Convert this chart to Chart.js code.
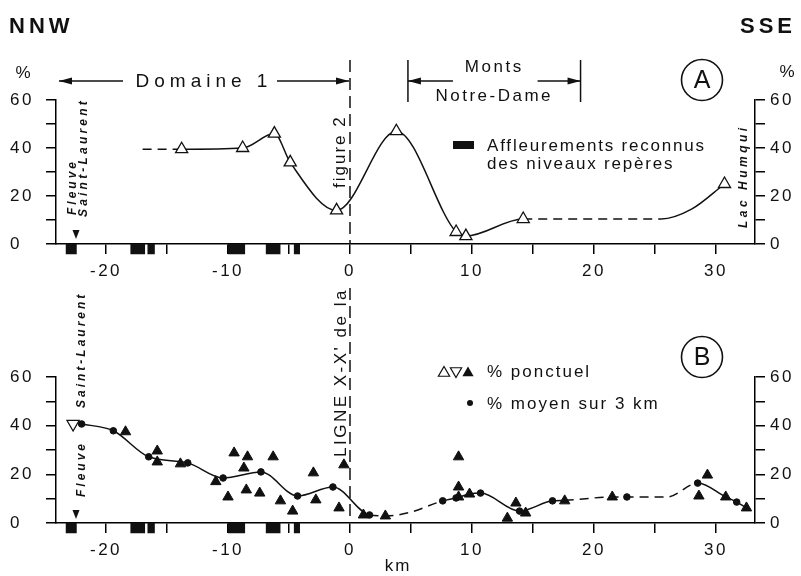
<!DOCTYPE html>
<html><head><meta charset="utf-8">
<script src="https://cdn.jsdelivr.net/npm/chart.js@4/dist/chart.umd.min.js"></script>
<style>
html,body{margin:0;padding:0;background:#fff;}
#wrap{position:relative;width:801px;height:576px;background:#fff;}
canvas{position:absolute;left:0;top:0;}
</style></head><body>
<div id="wrap"><canvas id="cA" width="801" height="576"></canvas><canvas id="cB" width="801" height="576"></canvas></div>
<script>
// ---------- axes ----------
const X_MIN = -24.1, X_MAX = 33.2;
const Y_MIN = 0, Y_MAX = 60;
const xTickValues = [-20,-15,-10,-5,0,5,10,15,20,25,30];
const xTickLabels = ['-20','','-10','','0','','10','','20','','30'];
const yTickValues = [0,10,20,30,40,50,60];
const yTickLabels = ['0','','20','','40','','60'];

// ---------- panel A : open triangles and trend curve ----------
const kmA  = [-13.8,-8.8,-6.2,-4.9,-1.1,3.8,8.7,9.5,14.2,30.7];
const pctA = [39.5,40.0,46.0,34.0,14.0,47.0,5.0,3.3,10.4,25.0];
const curveKmA  = [-17.0,-13.8,-8.8,-6.2,-4.9,-1.1,3.8,8.7,9.5,14.2,25.5,28.0,30.7];
const curvePctA = [39.5,39.5,40.0,46.0,34.0,14.0,47.0,5.0,3.3,10.4,10.4,14.5,25.0];
const dashedRangesA = [[-17.0,-13.8],[14.2,25.5]];

// ---------- outcrops of marker beds (both panels) ----------
const outcropFromKm = [-23.3,-18.0,-16.6,-10.0,-6.9,-4.6];
const outcropToKm   = [-22.4,-16.8,-16.0,-8.6,-5.7,-4.1];
const outcropDepthPct = 4.2;

// ---------- panel B ----------
const kmB_ponct  = [-18.4,-15.8,-15.8,-13.9,-11.0,-10.0,-9.5,-8.7,-8.4,-8.5,-7.4,-6.3,-5.7,-4.7,-3.0,-2.8,-0.9,-0.5,1.1,2.9,8.9,8.9,8.9,9.8,12.9,13.6,14.4,17.6,21.5,28.6,29.3,30.8,32.5];
const pctB_ponct = [37.5,29.6,25.1,24.3,17.0,10.7,28.8,22.6,27.2,13.6,12.3,27.2,9.1,4.9,20.6,9.5,6.2,23.9,3.3,2.9,27.2,14.8,10.7,11.9,2.0,8.2,4.1,9.1,10.7,11.1,19.7,10.7,6.2];
const kmB_open  = [-22.7];
const pctB_open = [40.7];
const kmB_moyen  = [-22.0,-19.4,-16.5,-13.3,-10.4,-7.3,-4.3,-1.4,1.6,7.6,8.7,10.7,13.9,16.6,22.7,28.5,31.7];
const pctB_moyen = [40.7,37.9,27.2,24.7,18.5,21.0,11.1,14.8,3.3,9.1,10.3,12.3,4.9,9.1,10.7,16.4,8.6];
const curveKmB  = [-22.0,-19.4,-16.5,-13.3,-10.4,-7.3,-4.3,-1.4,1.6,3.0,5.0,7.6,8.7,9.8,10.7,13.9,16.6,17.6,21.5,22.7,26.0,28.5,30.8,31.7,32.5];
const curvePctB = [40.7,37.9,27.2,24.7,18.5,21.0,11.1,14.8,3.3,2.9,4.5,9.1,10.3,11.9,12.3,4.9,9.1,9.3,10.7,10.7,10.7,16.4,10.7,8.6,6.2];
const dashedRangesB = [[1.6,7.6],[17.6,28.5]];

// ---------- helpers ----------
const FONT = "'Liberation Sans', Arial, sans-serif";
const pts = (xs, ys) => xs.map((x,i)=>({x, y: ys[i]}));
function outcropPoints(){
  const out = [];
  const mid = -outcropDepthPct/2;
  outcropFromKm.forEach((a,i)=>{
    out.push({x:a,y:mid},{x:outcropToKm[i],y:mid});
    if (i < outcropFromKm.length-1) out.push({x:(outcropToKm[i]+outcropFromKm[i+1])/2, y:null});
  });
  return out;
}
const dashSeg = ranges => ctx => {
  const a = ctx.p0.parsed.x, b = ctx.p1.parsed.x;
  return ranges.some(([s,e]) => a >= s-1e-6 && b <= e+1e-6) ? [9,6] : undefined;
};

function scales(plotBottomPx){
  const tickFont = {family: FONT, size: 17};
  const yCommon = {
    type:'linear', min:Y_MIN, max:Y_MAX,
    afterBuildTicks: s => { s.ticks = yTickValues.map(v=>({value:v})); },
    grid:{drawOnChartArea:false, drawTicks:true, tickLength:10, color:'#000', lineWidth:1.5},
    border:{display:true, color:'#000', width:1.5},
  };
  return {
    x: {
      type:'linear', min:X_MIN, max:X_MAX,
      afterBuildTicks: s => { s.ticks = xTickValues.map(v=>({value:v})); },
      ticks:{callback:(v,i)=>xTickLabels[i], color:'#111', font:tickFont, maxRotation:0, autoSkip:false, padding:7},
      grid:{drawOnChartArea:false, drawTicks:true, tickLength:10, color:'#000', lineWidth:1.5},
      border:{display:true, color:'#000', width:1.5},
      afterFit: s => { s.height = 576 - plotBottomPx; }
    },
    y: Object.assign({}, yCommon, {
      position:'left',
      ticks:{callback:(v,i)=>yTickLabels[i], color:'#111', font:tickFont, crossAlign:'far', padding:8},
      afterFit: s => { s.width = 46; }
    }),
    y2: Object.assign({}, yCommon, {
      position:'right',
      ticks:{callback:(v,i)=>yTickLabels[i], color:'#111', font:tickFont, padding:5},
      afterFit: s => { s.width = 46; }
    })
  };
}

const spacing = { id:'spacing', beforeDraw(chart){ chart.ctx.letterSpacing = '2.5px'; } };

function text(ctx, s, x, y, o={}){
  ctx.save();
  ctx.font = `${o.style||'normal'} ${o.weight||'normal'} ${o.size||17}px ${FONT}`;
  ctx.letterSpacing = (o.ls!==undefined ? o.ls : 2.5) + 'px';
  ctx.fillStyle = '#111';
  ctx.textAlign = o.align || 'left';
  ctx.textBaseline = o.base || 'middle';
  ctx.translate(x, y);
  if (o.rot) ctx.rotate(o.rot);
  ctx.fillText(s, 0, 0);
  ctx.restore();
}
function seg(ctx, x1,y1,x2,y2, w=1.5, dash=[]){
  ctx.save(); ctx.strokeStyle='#111'; ctx.lineWidth=w; ctx.setLineDash(dash);
  ctx.beginPath(); ctx.moveTo(x1,y1); ctx.lineTo(x2,y2); ctx.stroke(); ctx.restore();
}
function arrowHead(ctx, x, y, dir){ // dir -1 left, +1 right
  ctx.save(); ctx.fillStyle='#111'; ctx.beginPath();
  ctx.moveTo(x, y); ctx.lineTo(x - dir*13, y-3.5); ctx.lineTo(x - dir*13, y+3.5); ctx.closePath(); ctx.fill(); ctx.restore();
}
function downArrow(ctx, x, y){
  ctx.save(); ctx.fillStyle='#111'; ctx.beginPath();
  ctx.moveTo(x-3.5, y-4); ctx.lineTo(x+3.5, y-4); ctx.lineTo(x, y+5); ctx.closePath(); ctx.fill(); ctx.restore();
}
function circled(ctx, s, x, y){
  ctx.save(); ctx.strokeStyle='#111'; ctx.lineWidth=1.6;
  ctx.beginPath(); ctx.arc(x, y, 20.5, 0, Math.PI*2); ctx.stroke(); ctx.restore();
  text(ctx, s, x, y+1, {size:25, align:'center', ls:0});
}
function tri(ctx, x, y, r, down, filled){
  ctx.save(); ctx.beginPath();
  const s = down ? -1 : 1;
  ctx.moveTo(x, y - s*r); ctx.lineTo(x + r*0.866, y + s*r/2); ctx.lineTo(x - r*0.866, y + s*r/2); ctx.closePath();
  if (filled){ ctx.fillStyle='#111'; ctx.fill(); } else { ctx.fillStyle='#fff'; ctx.fill(); ctx.strokeStyle='#111'; ctx.lineWidth=1.2; ctx.stroke(); }
  ctx.restore();
}
const UP = -Math.PI/2;

const annotA = { id:'annotA', afterDraw(chart){
  const ctx = chart.ctx, xs = chart.scales.x, ys = chart.scales.y;
  const x0 = xs.getPixelForValue(0), y0 = ys.getPixelForValue(0);
  text(ctx, 'NNW', 9, 33, {size:22, weight:'bold', base:'alphabetic', ls:4});
  text(ctx, 'SSE', 796, 33, {size:22, weight:'bold', base:'alphabetic', align:'right', ls:4});
  text(ctx, '%', 23, 73, {align:'center', ls:0});
  text(ctx, '%', 787, 72, {align:'center', ls:0});
  // km 0 dashed line
  seg(ctx, x0, 60, x0, y0, 1.5, [12,6]);
  // Domaine 1
  const xl = chart.chartArea.left + 3;
  seg(ctx, xl, 81, 123, 81); arrowHead(ctx, xl, 81, -1);
  seg(ctx, 277, 81, x0-1, 81); arrowHead(ctx, x0-1, 81, 1);
  text(ctx, 'Domaine 1', 204, 82, {size:19, align:'center', ls:5});
  // Monts Notre-Dame
  const xa = xs.getPixelForValue(4.75), xb = xs.getPixelForValue(18.9);
  seg(ctx, xa, 60, xa, 102); seg(ctx, xb, 60, xb, 102);
  seg(ctx, xa, 81, xa+45, 81); arrowHead(ctx, xa, 81, -1);
  seg(ctx, xb-43, 81, xb, 81); arrowHead(ctx, xb, 81, 1);
  text(ctx, 'Monts', (xa+xb)/2, 67, {align:'center'});
  text(ctx, 'Notre-Dame', (xa+xb)/2, 96, {align:'center'});
  circled(ctx, 'A', 702, 80);
  // legend
  ctx.save(); ctx.fillStyle='#111'; ctx.fillRect(453, 141, 21, 8); ctx.restore();
  text(ctx, 'Affleurements reconnus', 487, 146, {ls:1.8});
  text(ctx, 'des niveaux repères', 487, 164, {ls:1.8});
  // rotated labels
  text(ctx, 'figure 2', 340, 188, {rot:UP, ls:2});
  text(ctx, 'Fleuve', 73, 215, {rot:UP, size:12, weight:'bold', style:'italic', ls:3});
  text(ctx, 'Saint-Laurent', 84, 217, {rot:UP, size:12, weight:'bold', style:'italic', ls:3.2});
  downArrow(ctx, 76, 234);
  text(ctx, 'Lac Humqui', 744, 228, {rot:UP, size:12, weight:'bold', style:'italic', ls:3.5});
}};

const annotB = { id:'annotB', afterDraw(chart){
  const ctx = chart.ctx, xs = chart.scales.x, ys = chart.scales.y;
  const x0 = xs.getPixelForValue(0), y0 = ys.getPixelForValue(0);
  seg(ctx, x0, 288, x0, y0, 1.5, [12,6]);
  text(ctx, "LIGNE X-X' de la", 341, 457, {rot:UP, ls:2.5});
  text(ctx, 'Fleuve', 82, 497, {rot:UP, size:12, weight:'bold', style:'italic', ls:3});
  text(ctx, 'Saint-Laurent', 82, 408, {rot:UP, size:12, weight:'bold', style:'italic', ls:3});
  downArrow(ctx, 76, 514);
  circled(ctx, 'B', 702, 357);
  tri(ctx, 444, 373, 6.5, false, false);
  tri(ctx, 456, 371, 6.5, true, false);
  tri(ctx, 468, 373, 6.5, false, true);
  text(ctx, '% ponctuel', 487, 372, {ls:2});
  ctx.save(); ctx.fillStyle='#111'; ctx.beginPath(); ctx.arc(470, 403, 3, 0, Math.PI*2); ctx.fill(); ctx.restore();
  text(ctx, '% moyen sur 3 km', 487, 404, {ls:2});
  text(ctx, 'km', 398, 566, {align:'center', ls:2});
}};

const common = (top, bottom) => ({
  responsive:false, animation:false, devicePixelRatio:1,
  layout:{padding:{top, left:10, right:0, bottom:0}},
  plugins:{legend:{display:false}, tooltip:{enabled:false}},
  scales: scales(bottom)
});

const outcropDataset = {
  data: outcropPoints(), borderColor:'#111', borderWidth:10.5, borderCapStyle:'butt',
  pointRadius:0, spanGaps:false, clip:false, order:3
};

new Chart(document.getElementById('cA'), {
  type:'line',
  data:{datasets:[
    {data: pts(kmA, pctA), showLine:false, pointStyle:'triangle', pointRadius:7, backgroundColor:'#fff', borderColor:'#111', borderWidth:1.3, order:0},
    {data: pts(curveKmA, curvePctA), borderColor:'#111', borderWidth:1.5, pointRadius:0, cubicInterpolationMode:'monotone', segment:{borderDash: dashSeg(dashedRangesA)}, order:1},
    Object.assign({}, outcropDataset)
  ]},
  options: common(100, 244),
  plugins:[spacing, annotA]
});

new Chart(document.getElementById('cB'), {
  type:'line',
  data:{datasets:[
    {data: pts(kmB_ponct, pctB_ponct), showLine:false, pointStyle:'triangle', pointRadius:6, backgroundColor:'#111', borderColor:'#111', borderWidth:1, order:0},
    {data: pts(kmB_open, pctB_open), showLine:false, pointStyle:'triangle', rotation:180, pointRadius:7, backgroundColor:'#fff', borderColor:'#111', borderWidth:1.3, order:0},
    {data: pts(kmB_moyen, pctB_moyen), showLine:false, pointStyle:'circle', pointRadius:3.3, backgroundColor:'#111', borderColor:'#111', borderWidth:1, order:1},
    {data: pts(curveKmB, curvePctB), borderColor:'#111', borderWidth:1.5, pointRadius:0, cubicInterpolationMode:'monotone', segment:{borderDash: dashSeg(dashedRangesB)}, order:2},
    Object.assign({}, outcropDataset, {data: outcropPoints()})
  ]},
  options: common(377, 523),
  plugins:[spacing, annotB]
});
</script>
</body></html>
